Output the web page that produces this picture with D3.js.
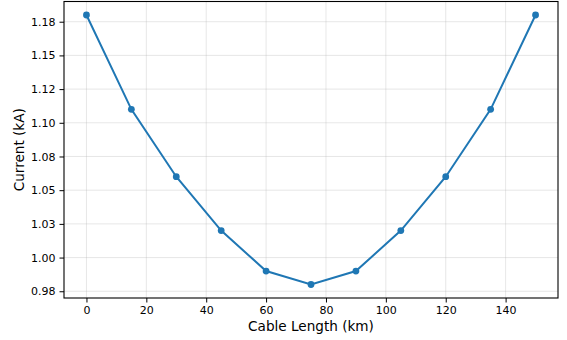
<!DOCTYPE html>
<html>
<head>
<meta charset="utf-8">
<script src="https://cdn.jsdelivr.net/npm/d3@7"></script>
<style>
  body { margin: 0; background: #fff; }
  svg text { font-family: "DejaVu Sans", sans-serif; fill: #000; }
</style>
</head>
<body>
<svg id="chart"></svg>
<script>
// Datos
const cableLength = [0, 15, 30, 45, 60, 75, 90, 105, 120, 135, 150];
const current = [1.18, 1.11, 1.06, 1.02, 0.99, 0.98, 0.99, 1.02, 1.06, 1.11, 1.18];
const xTicks = [0, 20, 40, 60, 80, 100, 120, 140];
const yTicks = [0.975, 1.0, 1.025, 1.05, 1.075, 1.1, 1.125, 1.15, 1.175];
const yTickLabels = ["0.98", "1.00", "1.03", "1.05", "1.08", "1.10", "1.12", "1.15", "1.18"];

const W = 567, H = 340;
const margin = { top: 1.5, right: 9, bottom: 42, left: 64 };
const width = W - margin.left - margin.right;
const height = H - margin.top - margin.bottom;

const svg = d3.select("#chart").attr("width", W).attr("height", H);
const g = svg.append("g").attr("transform", `translate(${margin.left},${margin.top})`);

// Escalas con margen del 5%
const xScale = d3.scaleLinear().domain([-7.5, 157.5]).range([0, width]);
const yMin = d3.min(current), yMax = d3.max(current), pad = (yMax - yMin) * 0.05;
const yScale = d3.scaleLinear().domain([yMin - pad, yMax + pad]).range([height, 0]);

// Rejilla
g.append("g").selectAll("line").data(xTicks).join("line")
    .attr("x1", d => xScale(d)).attr("x2", d => xScale(d))
    .attr("y1", 0).attr("y2", height)
    .attr("stroke", "#b0b0b0").attr("stroke-opacity", 0.3).attr("stroke-width", 1);
g.append("g").selectAll("line").data(yTicks).join("line")
    .attr("y1", d => yScale(d)).attr("y2", d => yScale(d))
    .attr("x1", 0).attr("x2", width)
    .attr("stroke", "#b0b0b0").attr("stroke-opacity", 0.3).attr("stroke-width", 1);

// Ejes
const xAxis = d3.axisBottom(xScale).tickValues(xTicks).tickSize(4.5).tickPadding(4).tickFormat(d3.format("d"));
const yAxis = d3.axisLeft(yScale).tickValues(yTicks).tickSize(4.5).tickPadding(4)
    .tickFormat((d, i) => yTickLabels[i]);

const xAxisG = g.append("g").attr("transform", `translate(0,${height})`).call(xAxis);
const yAxisG = g.append("g").call(yAxis);
[xAxisG, yAxisG].forEach(a => {
    a.select(".domain").remove();
    a.selectAll(".tick line").attr("stroke", "#000").attr("stroke-width", 1);
    a.selectAll(".tick text").style("font-size", "11px").attr("fill", "#222");
});

// Marco
g.append("rect").attr("width", width).attr("height", height)
    .attr("fill", "none").attr("stroke", "#000").attr("stroke-width", 1.1);

// Línea y puntos
const line = d3.line().x((d, i) => xScale(cableLength[i])).y(d => yScale(d));
g.append("path").datum(current).attr("d", line)
    .attr("fill", "none").attr("stroke", "#1f77b4").attr("stroke-width", 2);
g.append("g").selectAll("circle").data(current).join("circle")
    .attr("cx", (d, i) => xScale(cableLength[i])).attr("cy", d => yScale(d))
    .attr("r", 3.4).attr("fill", "#1f77b4");

// Etiquetas
svg.append("text").attr("x", margin.left + width / 2).attr("y", 331)
    .attr("text-anchor", "middle").style("font-size", "13.6px").text("Cable Length (km)");
svg.append("text").attr("transform", `translate(24,${margin.top + height / 2}) rotate(-90)`)
    .attr("text-anchor", "middle").style("font-size", "13.6px").text("Current (kA)");
</script>
</body>
</html>
